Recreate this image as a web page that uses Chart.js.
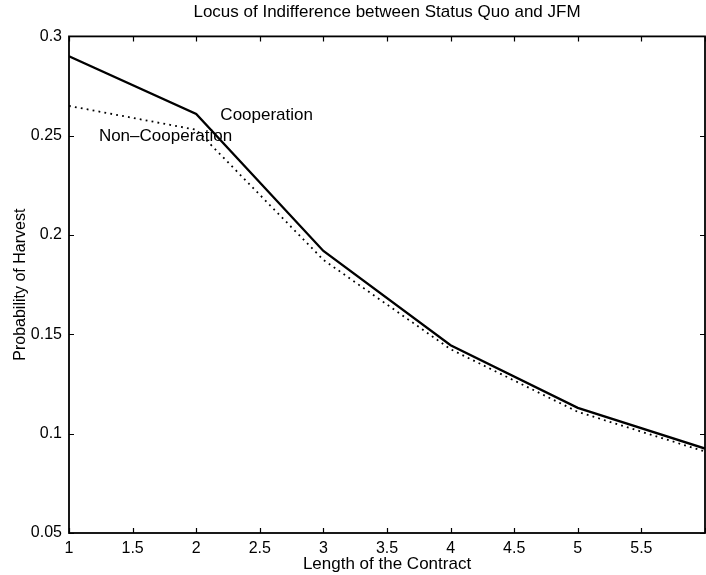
<!DOCTYPE html>
<html>
<head>
<meta charset="utf-8">
<title>Locus of Indifference between Status Quo and JFM</title>
<script src="https://cdn.jsdelivr.net/npm/chart.js@4/dist/chart.umd.min.js"></script>
<style>
  html, body { margin: 0; padding: 0; background: #ffffff; }
  canvas { display: block; }
</style>
</head>
<body>
<canvas id="locus" width="706" height="575"></canvas>
<script>
// Contract length (periods) and harvest probabilities on the indifference locus
const contractLength = [1, 2, 3, 4, 5, 6];
const cooperation = [0.290, 0.261, 0.192, 0.1445, 0.113, 0.0925];
const nonCooperation = [0.265, 0.253, 0.1875, 0.1425, 0.111, 0.091];

const xTicks = [1, 1.5, 2, 2.5, 3, 3.5, 4, 4.5, 5, 5.5, 6];
const yTicks = [0.05, 0.1, 0.15, 0.2, 0.25, 0.3];

// Curve labels placed in data coordinates: [text, x, y]
const curveLabels = [
  ['Cooperation', 2.19, 0.2605],
  ['Non\u2013Cooperation', 1.235, 0.2495]
];

const FONT = '"Liberation Sans", Arial, Helvetica, sans-serif';

const toPoints = ys => ys.map((y, i) => ({ x: contractLength[i], y }));

// Box around the plot area with MATLAB-style inward ticks on all four sides
const boxAndTicks = {
  id: 'boxAndTicks',
  afterDatasetsDraw(chart) {
    const { ctx, chartArea: a, scales } = chart;
    const tl = 5;
    ctx.save();
    ctx.strokeStyle = '#000';
    ctx.lineWidth = 1.2;
    ctx.beginPath();
    xTicks.forEach(v => {
      const px = Math.round(scales.x.getPixelForValue(v)) + 0.5;
      ctx.moveTo(px, a.bottom); ctx.lineTo(px, a.bottom - tl);
      ctx.moveTo(px, a.top); ctx.lineTo(px, a.top + tl);
    });
    yTicks.forEach(v => {
      const py = Math.round(scales.y.getPixelForValue(v)) + 0.5;
      ctx.moveTo(a.left, py); ctx.lineTo(a.left + tl, py);
      ctx.moveTo(a.right, py); ctx.lineTo(a.right - tl, py);
    });
    ctx.stroke();
    ctx.lineWidth = 1.8;
    ctx.strokeRect(a.left, a.top, a.right - a.left, a.bottom - a.top);

    ctx.fillStyle = '#000';
    ctx.font = '17px ' + FONT;
    ctx.textAlign = 'left';
    ctx.textBaseline = 'middle';
    curveLabels.forEach(([t, x, y]) => {
      ctx.fillText(t, scales.x.getPixelForValue(x), scales.y.getPixelForValue(y));
    });
    ctx.restore();
  }
};

new Chart(document.getElementById('locus'), {
  type: 'line',
  data: {
    datasets: [
      {
        label: 'Cooperation',
        data: toPoints(cooperation),
        borderColor: '#000',
        borderWidth: 2.3,
        pointRadius: 0,
        tension: 0,
        fill: false
      },
      {
        label: 'Non-Cooperation',
        data: toPoints(nonCooperation),
        borderColor: '#000',
        borderWidth: 1.8,
        borderDash: [1.8, 4.2],
        pointRadius: 0,
        tension: 0,
        fill: false
      }
    ]
  },
  options: {
    responsive: false,
    devicePixelRatio: 1,
    animation: false,
    layout: { padding: { left: 0, right: 1, top: 0, bottom: 0 } },
    plugins: {
      legend: { display: false },
      tooltip: { enabled: false },
      title: {
        display: true,
        fullSize: false,
        text: 'Locus of Indifference between Status Quo and JFM',
        color: '#000',
        font: { family: FONT, size: 17, weight: 'normal' },
        padding: { top: 2, bottom: 14 }
      }
    },
    scales: {
      x: {
        type: 'linear',
        min: 1,
        max: 6,
        afterBuildTicks: s => { s.ticks = xTicks.map(v => ({ value: v })); },
        afterFit: s => { s.height = 42; s.paddingLeft = 0; s.paddingRight = 0; },
        grid: { display: false, drawTicks: false },
        border: { display: false },
        ticks: {
          color: '#000',
          font: { family: FONT, size: 16 },
          padding: 6,
          maxRotation: 0,
          autoSkip: false,
          callback: v => (v === 6 ? '' : String(v))
        },
        title: {
          display: true,
          text: 'Length of the Contract',
          color: '#000',
          font: { family: FONT, size: 17 },
          padding: { top: 0, bottom: 0 }
        }
      },
      y: {
        type: 'linear',
        min: 0.05,
        max: 0.3,
        afterBuildTicks: s => { s.ticks = yTicks.map(v => ({ value: v })); },
        afterFit: s => { s.width = 69; },
        grid: { display: false, drawTicks: false },
        border: { display: false },
        ticks: {
          color: '#000',
          font: { family: FONT, size: 16 },
          padding: 7,
          autoSkip: false,
          callback: v => String(Math.round(v * 100) / 100)
        },
        title: {
          display: true,
          text: 'Probability of Harvest',
          color: '#000',
          font: { family: FONT, size: 16 },
          padding: { top: 11, bottom: 0 }
        }
      }
    }
  },
  plugins: [boxAndTicks]
});
</script>
</body>
</html>
